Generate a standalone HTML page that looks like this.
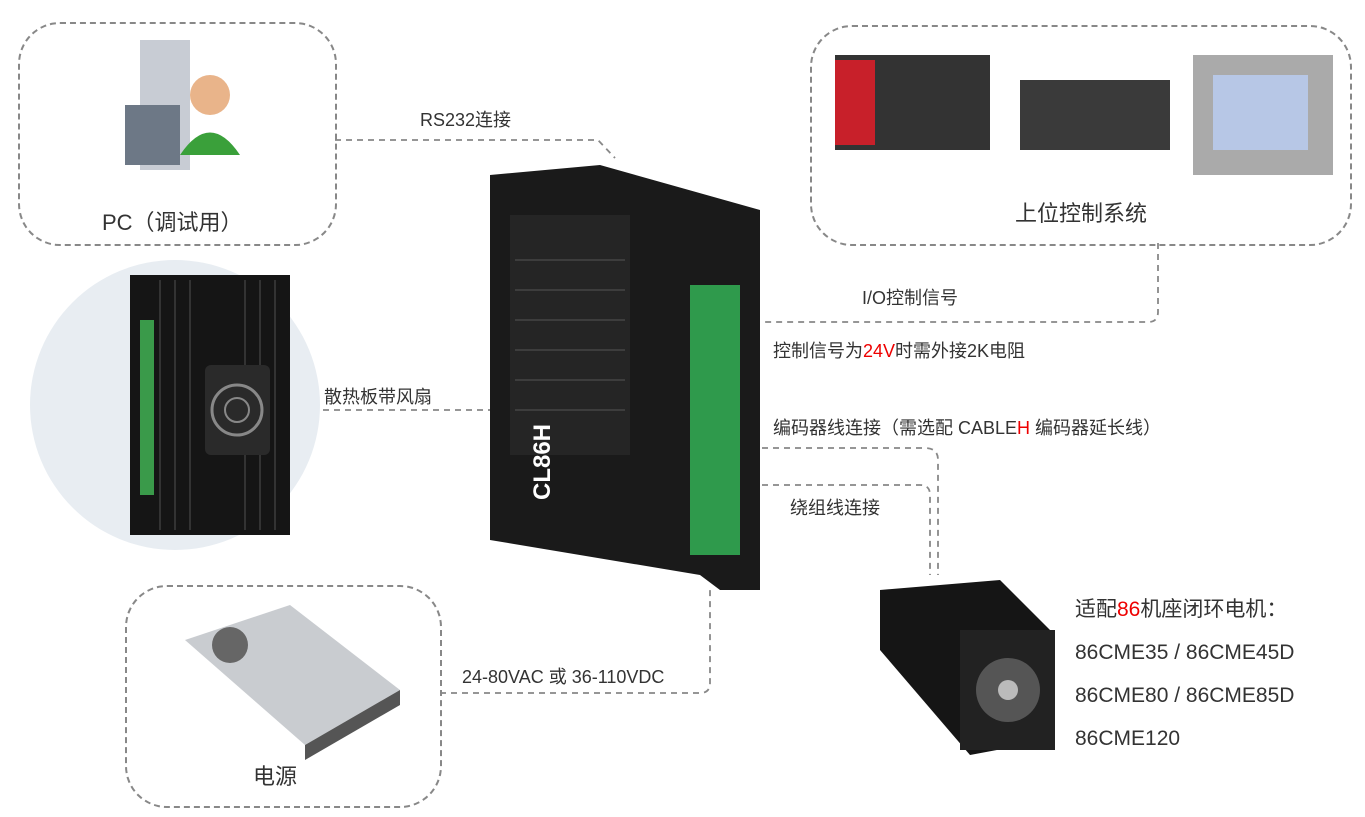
<!DOCTYPE html>
<html><head><meta charset="utf-8"><style>
body{margin:0;width:1365px;height:817px;background:#fff;position:relative;overflow:hidden;font-family:"Liberation Sans","Noto Sans CJK SC",sans-serif;color:#333}
.a{position:absolute}
.box{position:absolute;border:2px dashed #888;border-radius:42px}
.t{position:absolute;font-size:18px;white-space:nowrap}
.r{color:#e00}
</style></head><body>
<div class="box" style="left:18px;top:22px;width:315px;height:220px"></div>
<div class="box" style="left:810px;top:25px;width:538px;height:217px"></div>
<div class="box" style="left:125px;top:585px;width:313px;height:219px"></div>
<svg class="a" style="left:0;top:0" width="1365" height="817">
<g fill="none" stroke="#888" stroke-width="1.8" stroke-dasharray="6,5">
<path d="M335 140 H598 L615 158"/>
<path d="M1158 243 V312 Q1158 322 1148 322 H762"/>
<path d="M290 410 H490"/>
<path d="M762 448 H925 Q938 448 938 460 V575"/>
<path d="M762 485 H920 Q930 485 930 495 V575"/>
<path d="M440 693 H700 Q710 693 710 683 V588"/>
</g>
<circle cx="175" cy="405" r="145" fill="#e8edf2"/>
<rect x="130" y="275" width="160" height="260" fill="#151515"/>
<g stroke="#333" stroke-width="2"><path d="M160 280V530M175 280V530M190 280V530M245 280V530M260 280V530M275 280V530"/></g>
<rect x="140" y="320" width="14" height="175" fill="#3a9a4a"/>
<rect x="205" y="365" width="65" height="90" rx="6" fill="#2a2a2a"/>
<circle cx="237" cy="410" r="25" fill="none" stroke="#888" stroke-width="3"/>
<circle cx="237" cy="410" r="12" fill="none" stroke="#888" stroke-width="2"/>
<path d="M490 175 L600 165 L760 210 V590 L720 590 L700 575 L490 540 Z" fill="#1a1a1a"/>
<rect x="690" y="285" width="50" height="270" fill="#2f9a4c"/>
<rect x="510" y="215" width="120" height="240" fill="#252525"/>
<g stroke="#555"><path d="M515 260H625M515 290H625M515 320H625M515 350H625M515 380H625M515 410H625"/></g>
<text x="550" y="500" fill="#fff" font-size="24" font-weight="bold" transform="rotate(-90 550 500)" font-family="Liberation Sans">CL86H</text>
<rect x="140" y="40" width="50" height="130" fill="#c8ccd4"/>
<rect x="125" y="105" width="55" height="60" fill="#6d7886"/>
<circle cx="210" cy="95" r="20" fill="#e9b48a"/>
<path d="M180 155 Q210 110 240 155 Z" fill="#3aa03a"/>
<rect x="835" y="55" width="155" height="95" fill="#333"/>
<rect x="835" y="60" width="40" height="85" fill="#c8202a"/>
<rect x="1020" y="80" width="150" height="70" fill="#3a3a3a"/>
<rect x="1193" y="55" width="140" height="120" fill="#aaa"/>
<rect x="1213" y="75" width="95" height="75" fill="#b7c7e6"/>
<path d="M185 640 L290 605 L400 690 L305 745 Z" fill="#c9ccd0"/>
<path d="M305 745 L400 690 L400 705 L305 760 Z" fill="#555"/>
<circle cx="230" cy="645" r="18" fill="#666"/>
<path d="M880 590 L1000 580 L1050 630 V740 L970 755 L880 650 Z" fill="#151515"/>
<rect x="960" y="630" width="95" height="120" fill="#222"/>
<circle cx="1008" cy="690" r="32" fill="#555"/>
<circle cx="1008" cy="690" r="10" fill="#bbb"/>
</svg>
<div class="t" style="left:420px;top:106px">RS232连接</div>
<div class="t" style="left:102px;top:205px;font-size:22px">PC（调试用）</div>
<div class="t" style="left:1015px;top:196px;font-size:22px">上位控制系统</div>
<div class="t" style="left:862px;top:284px">I/O控制信号</div>
<div class="t" style="left:773px;top:337px">控制信号为<span class="r">24V</span>时需外接2K电阻</div>
<div class="t" style="left:324px;top:383px">散热板带风扇</div>
<div class="t" style="left:773px;top:414px">编码器线连接（需选配 CABLE<span class="r">H</span> 编码器延长线）</div>
<div class="t" style="left:790px;top:494px">绕组线连接</div>
<div class="t" style="left:462px;top:663px">24-80VAC 或 36-110VDC</div>
<div class="t" style="left:253px;top:759px;font-size:22px">电源</div>
<div class="t" style="left:1075px;top:588px;font-size:21px;line-height:43px">适配<span class="r">86</span>机座闭环电机：<br>86CME35 / 86CME45D<br>86CME80 / 86CME85D<br>86CME120</div>
</body></html>
